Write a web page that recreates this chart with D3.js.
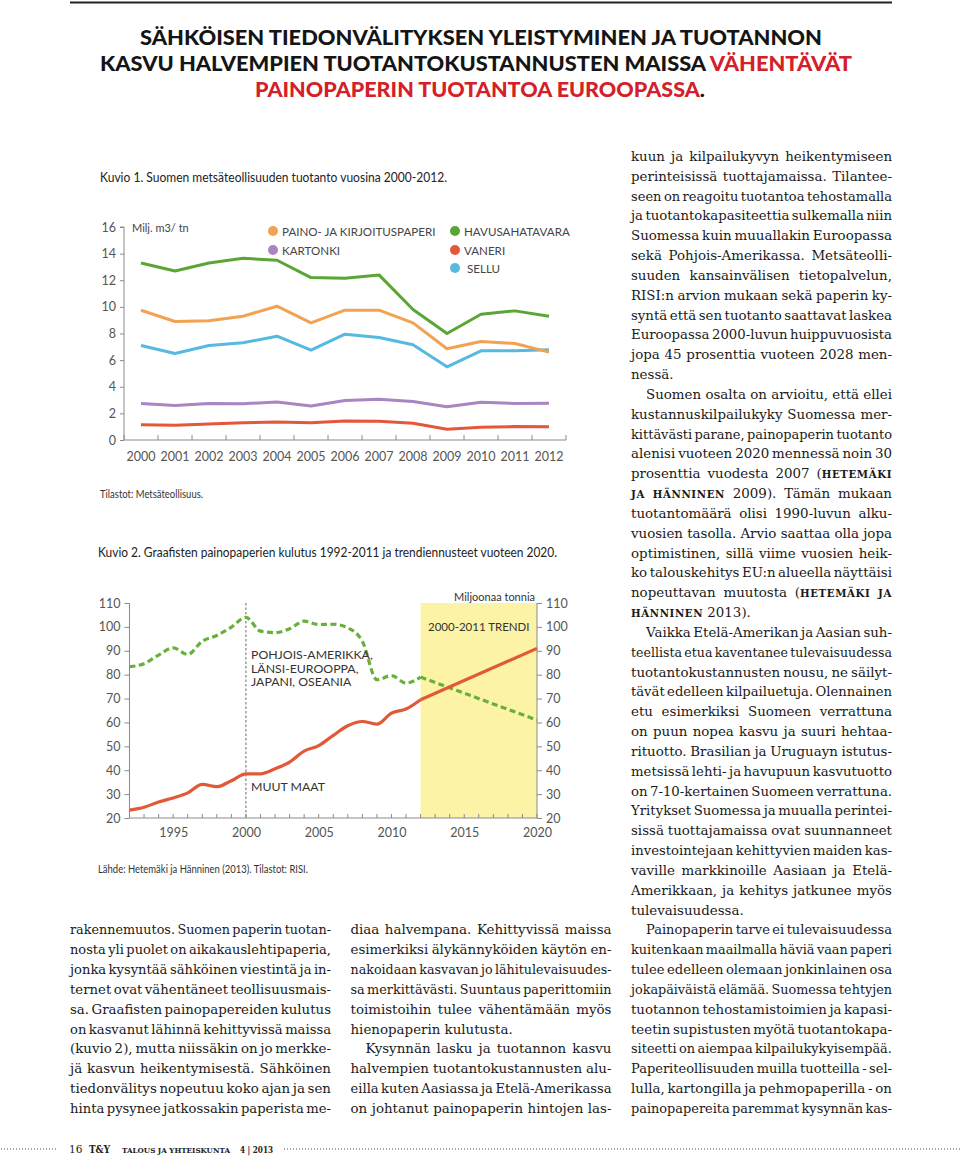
<!DOCTYPE html>
<html><head><meta charset="utf-8">
<script src="https://cdn.jsdelivr.net/npm/d3@7/dist/d3.min.js"></script>
<style>body{margin:0;background:#fff}svg{display:block}</style>
</head><body><div id="c"></div>
<script>
// ---------- DATA: Kuvio 1 ----------
const years1 = [2000,2001,2002,2003,2004,2005,2006,2007,2008,2009,2010,2011,2012];
const paino    = [9.75,8.9,8.95,9.3,10.05,8.8,9.75,9.75,8.8,6.85,7.4,7.25,6.6];
const havu     = [13.3,12.7,13.3,13.65,13.5,12.2,12.15,12.4,9.8,8.0,9.45,9.7,9.3];
const kartonki = [2.74,2.6,2.74,2.72,2.86,2.55,2.96,3.06,2.9,2.5,2.84,2.74,2.76];
const vaneri   = [1.14,1.11,1.2,1.3,1.36,1.3,1.43,1.4,1.26,0.81,0.96,1.01,0.99];
const sellu    = [7.1,6.5,7.1,7.3,7.8,6.75,7.95,7.7,7.15,5.5,6.7,6.7,6.78];
const yTicks1 = [0,2,4,6,8,10,12,14,16];
const legend1 = ["PAINO- JA KIRJOITUSPAPERI","KARTONKI","HAVUSAHATAVARA","VANERI","SELLU"];

// ---------- DATA: Kuvio 2 ----------
const years2  = [1992,1993,1994,1995,1996,1997,1998,1999,2000,2001,2002,2003,2004,2005,2006,2007,2008,2009,2010,2011,2012];
const muutMaat = [23.3,24.5,26.7,28.4,30.5,34.1,33.1,35.6,38.5,38.5,40.6,43.4,48.0,50.3,54.6,58.6,60.4,59.3,63.9,65.6,69.5];
const pohjoinen = [83.3,84.6,88.2,91.2,88.5,94.0,96.4,99.9,104.0,98.2,97.6,99.2,102.4,101.0,101.1,99.6,94.0,77.9,79.6,76.5,79.0];
const trendYears = [2012,2020];
const muutTrend = [69.5,91.0];
const pohjTrend = [79.0,61.0];
const yTicks2 = [20,30,40,50,60,70,80,90,100,110];
const xLabels2 = [1995,2000,2005,2010,2015,2020];
const xMinor2 = [1992,1993,1994,1995,1996,1997,1998,1999,2000,2001,2002,2003,2004,2005,2006,2007,2008,2009,2010,2011,2012,2013,2014,2015,2016,2017,2018,2019,2020];

// ---------- BODY TEXT ----------
const col1 = [
"rakennemuutos. Suomen paperin tuotan-",
"nosta yli puolet on aikakauslehtipaperia,",
"jonka kysyntää sähköinen viestintä ja in-",
"ternet ovat vähentäneet teollisuusmais-",
"sa. Graafisten painopapereiden kulutus",
"on kasvanut lähinnä kehittyvissä maissa",
"(kuvio 2), mutta niissäkin on jo merkke-",
"jä kasvun heikentymisestä. Sähköinen",
"tiedonvälitys nopeutuu koko ajan ja sen",
"hinta pysynee jatkossakin paperista me-"];
const col2 = [
"diaa halvempana. Kehittyvissä maissa",
"esimerkiksi älykännyköiden käytön en-",
"nakoidaan kasvavan jo lähitulevaisuudes-",
"sa merkittävästi. Suuntaus paperittomiin",
"toimistoihin tulee vähentämään myös",
"hienopaperin kulutusta.¶",
">Kysynnän lasku ja tuotannon kasvu",
"halvempien tuotantokustannusten alu-",
"eilla kuten Aasiassa ja Etelä-Amerikassa",
"on johtanut painopaperin hintojen las-"];
const col3 = [
"kuun ja kilpailukyvyn heikentymiseen",
"perinteisissä tuottajamaissa. Tilantee-",
"seen on reagoitu tuotantoa tehostamalla",
"ja tuotantokapasiteettia sulkemalla niin",
"Suomessa kuin muuallakin Euroopassa",
"sekä Pohjois-Amerikassa. Metsäteolli-",
"suuden kansainvälisen tietopalvelun,",
"RISI:n arvion mukaan sekä paperin ky-",
"syntä että sen tuotanto saattavat laskea",
"Euroopassa 2000-luvun huippuvuosista",
"jopa 45 prosenttia vuoteen 2028 men-",
"nessä.¶",
">Suomen osalta on arvioitu, että ellei",
"kustannuskilpailukyky Suomessa mer-",
"kittävästi parane, painopaperin tuotanto",
"alenisi vuoteen 2020 mennessä noin 30",
"prosenttia vuodesta 2007 (|HETEMÄKI|",
"|JA HÄNNINEN| 2009). Tämän mukaan",
"tuotantomäärä olisi 1990-luvun alku-",
"vuosien tasolla. Arvio saattaa olla jopa",
"optimistinen, sillä viime vuosien heik-",
"ko talouskehitys EU:n alueella näyttäisi",
"nopeuttavan muutosta (|HETEMÄKI JA|",
"|HÄNNINEN| 2013).¶",
">Vaikka Etelä-Amerikan ja Aasian suh-",
"teellista etua kaventanee tulevaisuudessa",
"tuotantokustannusten nousu, ne säilyt-",
"tävät edelleen kilpailuetuja. Olennainen",
"etu esimerkiksi Suomeen verrattuna",
"on puun nopea kasvu ja suuri hehtaa-",
"rituotto. Brasilian ja Uruguayn istutus-",
"metsissä lehti- ja havupuun kasvutuotto",
"on 7-10-kertainen Suomeen verrattuna.",
"Yritykset Suomessa ja muualla perintei-",
"sissä tuottajamaissa ovat suunnanneet",
"investointejaan kehittyvien maiden kas-",
"vaville markkinoille Aasiaan ja Etelä-",
"Amerikkaan, ja kehitys jatkunee myös",
"tulevaisuudessa.¶",
">Painopaperin tarve ei tulevaisuudessa",
"kuitenkaan maailmalla häviä vaan paperi",
"tulee edelleen olemaan jonkinlainen osa",
"jokapäiväistä elämää. Suomessa tehtyjen",
"tuotannon tehostamistoimien ja kapasi-",
"teetin supistusten myötä tuotantokapa-",
"siteetti on aiempaa kilpailukykyisempää.",
"Paperiteollisuuden muilla tuotteilla - sel-",
"lulla, kartongilla ja pehmopaperilla - on",
"painopapereita paremmat kysynnän kas-"];

// ---------- DRAW ----------
const W = 960, H = 1157;
const svg = d3.select('#c').append('svg').attr('width', W).attr('height', H);
svg.append('rect').attr('width', W).attr('height', H).attr('fill', '#fff');

const SANS = "Lato, 'Open Sans', sans-serif";
const SERIF = "'DejaVu Serif', 'Liberation Serif', serif";
const BLACK = '#151515', RED = '#d42029';

// top rule
svg.append('line').attr('x1', 70).attr('x2', 892).attr('y1', 2.5).attr('y2', 2.5)
  .attr('stroke', '#222').attr('stroke-width', 2);

// title
const title = svg.append('g').attr('font-family', SANS).attr('font-weight', 900).attr('font-size', 21.5);
title.append('text').attr('x', 140).attr('y', 45).attr('textLength', 682).attr('lengthAdjust', 'spacingAndGlyphs')
  .attr('fill', BLACK).text('SÄHKÖISEN TIEDONVÄLITYKSEN YLEISTYMINEN JA TUOTANNON');
const t2 = title.append('text').attr('x', 100).attr('y', 71).attr('textLength', 752).attr('lengthAdjust', 'spacingAndGlyphs');
t2.append('tspan').attr('fill', BLACK).text('KASVU HALVEMPIEN TUOTANTOKUSTANNUSTEN MAISSA ');
t2.append('tspan').attr('fill', RED).text('VÄHENTÄVÄT');
const t3 = title.append('text').attr('x', 255).attr('y', 97).attr('textLength', 450).attr('lengthAdjust', 'spacingAndGlyphs');
t3.append('tspan').attr('fill', RED).text('PAINOPAPERIN TUOTANTOA EUROOPASSA');
t3.append('tspan').attr('fill', BLACK).text('.');

// ======== Kuvio 1 ========
const c1 = svg.append('g').attr('font-family', SANS);
c1.append('text').attr('x', 100).attr('y', 182).attr('font-size', 13.5).attr('font-weight', 400)
  .attr('fill', '#222').attr('textLength', 347).attr('lengthAdjust', 'spacingAndGlyphs')
  .text('Kuvio 1. Suomen metsäteollisuuden tuotanto vuosina 2000-2012.');

const x1 = d3.scaleBand().domain(years1).range([124, 566]);
const y1 = d3.scaleLinear().domain([0, 16]).range([440, 227]);
const axisCol = '#8a8a8a', labCol = '#555';

// left axis
const ax1 = c1.append('g').attr('transform', 'translate(124,0)')
  .call(d3.axisLeft(y1).tickValues(yTicks1).tickSize(4).tickPadding(4));
ax1.select('.domain').attr('stroke', axisCol).attr('d', `M-4,${y1(16)}H0V${y1(0)}`);
ax1.selectAll('.tick line').attr('stroke', axisCol);
ax1.selectAll('.tick text').attr('font-size', 12.5).attr('fill', labCol).attr('font-family', SANS);

// bottom axis
const bx1 = c1.append('g').attr('transform', 'translate(0,440)')
  .call(d3.axisBottom(x1).tickSize(0).tickPadding(12));
bx1.select('.domain').attr('stroke', axisCol).attr('d', `M${x1.range()[0]},0H${x1.range()[1]}`);
bx1.selectAll('.tick text').attr('font-size', 12.5).attr('fill', labCol).attr('font-family', SANS);
c1.append('g').selectAll('line').data(years1.concat(['end'])).join('line')
  .attr('x1', d => d === 'end' ? x1.range()[1] : x1(d)).attr('x2', d => d === 'end' ? x1.range()[1] : x1(d))
  .attr('y1', 440).attr('y2', 435).attr('stroke', axisCol);

c1.append('text').attr('x', 132).attr('y', 232).attr('font-size', 11).attr('fill', '#444').text('Milj. m3/ tn');

const s1 = [
  {name: legend1[0], vals: paino, col: '#f3a252'},
  {name: legend1[1], vals: kartonki, col: '#a985c2'},
  {name: legend1[2], vals: havu, col: '#5aa635'},
  {name: legend1[3], vals: vaneri, col: '#e4573a'},
  {name: legend1[4], vals: sellu, col: '#56b9e0'}
];
const line1 = d3.line().x((d, i) => x1(years1[i]) + x1.bandwidth() / 2).y(d => y1(d));
c1.append('g').selectAll('path').data([s1[3], s1[1], s1[4], s1[0], s1[2]]).join('path')
  .attr('d', d => line1(d.vals)).attr('fill', 'none').attr('stroke', d => d.col)
  .attr('stroke-width', 3).attr('stroke-linejoin', 'round');

// legend
const legPos = [[273, 231], [273, 250], [455, 231], [455, 250], [455, 268]];
const lg = c1.append('g').selectAll('g').data(s1).join('g')
  .attr('transform', (d, i) => `translate(${legPos[i][0]},${legPos[i][1]})`);
lg.append('circle').attr('r', 5).attr('fill', d => d.col);
lg.append('text').attr('x', d => d.name === 'SELLU' ? 12 : 9).attr('y', 4.5).attr('font-size', 11.6)
  .attr('fill', '#444').text(d => d.name);

c1.append('text').attr('x', 100).attr('y', 498).attr('font-size', 11).attr('fill', '#333')
  .attr('textLength', 103).attr('lengthAdjust', 'spacingAndGlyphs').text('Tilastot: Metsäteollisuus.');

// ======== Kuvio 2 ========
const c2 = svg.append('g').attr('font-family', SANS);
c2.append('text').attr('x', 98).attr('y', 557).attr('font-size', 13.5).attr('font-weight', 400)
  .attr('fill', '#222').attr('textLength', 459).attr('lengthAdjust', 'spacingAndGlyphs')
  .text('Kuvio 2. Graafisten painopaperien kulutus 1992-2011 ja trendiennusteet vuoteen 2020.');

const x2 = d3.scaleLinear().domain([1992, 2020]).range([129.5, 537]);
const y2 = d3.scaleLinear().domain([20, 110]).range([818, 603]);

// trend band
c2.append('rect').attr('x', x2(trendYears[0])).attr('width', x2(trendYears[1]) - x2(trendYears[0]))
  .attr('y', y2(110)).attr('height', y2(20) - y2(110)).attr('fill', '#fcf3a6');

// divider at 2000
c2.append('line').attr('x1', x2(2000)).attr('x2', x2(2000)).attr('y1', y2(110)).attr('y2', y2(20))
  .attr('stroke', '#444').attr('stroke-width', 0.8).attr('stroke-dasharray', '2.5,2');

const al = c2.append('g').attr('transform', `translate(${x2(1992)},0)`)
  .call(d3.axisLeft(y2).tickValues(yTicks2).tickSize(5).tickPadding(4));
const ar = c2.append('g').attr('transform', `translate(${x2(2020)},0)`)
  .call(d3.axisRight(y2).tickValues(yTicks2).tickSize(5).tickPadding(4));
[al, ar].forEach(a => {
  a.select('.domain').attr('stroke', axisCol).attr('d', `M0,${y2(110)}V${y2(20)}`);
  a.selectAll('.tick line').attr('stroke', axisCol);
  a.selectAll('.tick text').attr('font-size', 12.5).attr('fill', labCol).attr('font-family', SANS);
});
const ab = c2.append('g').attr('transform', `translate(0,${y2(20)})`)
  .call(d3.axisBottom(x2).tickValues(xLabels2).tickFormat(d3.format('d')).tickSize(0).tickPadding(10));
ab.select('.domain').attr('stroke', axisCol).attr('d', `M${x2(1992)},0H${x2(2020)}`);
ab.selectAll('.tick text').attr('font-size', 12.5).attr('fill', labCol).attr('font-family', SANS);
c2.append('g').selectAll('line').data(xMinor2).join('line')
  .attr('x1', d => x2(d)).attr('x2', d => x2(d)).attr('y1', y2(20)).attr('y2', y2(20) - 4)
  .attr('stroke', axisCol);

const line2 = d3.line().curve(d3.curveMonotoneX);
c2.append('path').attr('d', line2(years2.map((yr, i) => [x2(yr), y2(pohjoinen[i])])))
  .attr('fill', 'none').attr('stroke', '#68b03c').attr('stroke-width', 3.2).attr('stroke-dasharray', '6,3.5');
c2.append('path').attr('d', d3.line()(trendYears.map((yr, i) => [x2(yr), y2(pohjTrend[i])])))
  .attr('fill', 'none').attr('stroke', '#68b03c').attr('stroke-width', 3.2).attr('stroke-dasharray', '6,3.5');
c2.append('path').attr('d', line2(years2.map((yr, i) => [x2(yr), y2(muutMaat[i])])))
  .attr('fill', 'none').attr('stroke', '#e05a38').attr('stroke-width', 3.2).attr('stroke-linejoin', 'round');
c2.append('path').attr('d', d3.line()(trendYears.map((yr, i) => [x2(yr), y2(muutTrend[i])])))
  .attr('fill', 'none').attr('stroke', '#e05a38').attr('stroke-width', 3.2);

const lab2 = c2.append('g').attr('font-size', 12.3).attr('fill', '#333');
['POHJOIS-AMERIKKA,', 'LÄNSI-EUROOPPA,', 'JAPANI, OSEANIA'].forEach((t, i) =>
  lab2.append('text').attr('x', 251).attr('y', 659 + i * 13.5).text(t));
lab2.append('text').attr('x', 251).attr('y', 791).text('MUUT MAAT');
c2.append('text').attr('x', 535).attr('y', 601).attr('text-anchor', 'end').attr('font-size', 11)
  .attr('fill', '#333').text('Miljoonaa tonnia');
c2.append('text').attr('x', (x2(2012) + x2(2020)) / 2).attr('y', 631).attr('text-anchor', 'middle')
  .attr('font-size', 11.5).attr('fill', '#333').text('2000-2011 TRENDI');

c2.append('text').attr('x', 98).attr('y', 873).attr('font-size', 11).attr('fill', '#333')
  .attr('textLength', 210).attr('lengthAdjust', 'spacingAndGlyphs')
  .text('Lähde: Hetemäki ja Hänninen (2013). Tilastot: RISI.');

// ======== Body text ========
const body = svg.append('g').attr('font-family', SERIF).attr('font-size', 13.4).attr('fill', '#1a1a1a');
const COLW = 261, LH = 19.83, BASE0 = 161;
function drawLine(str, x, y) {
  let indent = 0, justify = true;
  if (str.startsWith('>')) { indent = 15; str = str.slice(1); }
  if (str.endsWith('¶')) { justify = false; str = str.slice(0, -1); }
  let sc = false; const words = []; let cur = [];
  let seg = '';
  const flushSeg = () => { if (seg) { cur.push({t: seg, sc}); seg = ''; } };
  for (const ch of str) {
    if (ch === '|') { flushSeg(); sc = !sc; }
    else if (ch === ' ') { flushSeg(); if (cur.length) words.push(cur); cur = []; }
    else seg += ch;
  }
  flushSeg(); if (cur.length) words.push(cur);
  const g = body.append('g');
  const els = words.map(w => {
    const t = g.append('text').attr('y', y);
    w.forEach(s => {
      const ts = t.append('tspan').text(s.t);
      if (s.sc) ts.attr('font-size', 10.2).attr('font-weight', 'bold').attr('letter-spacing', 0.6);
    });
    return t;
  });
  const widths = els.map(e => e.node().getComputedTextLength());
  const total = d3.sum(widths);
  const avail = COLW - indent;
  let gap = justify && els.length > 1 ? (avail - total) / (els.length - 1) : 4.2;
  let scale = 1;
  if (gap < 2.5) { gap = 2.5; scale = avail / (total + gap * (els.length - 1)); }
  let cx = 0;
  els.forEach((e, i) => { e.attr('x', cx); cx += widths[i] + gap; });
  g.attr('transform', `translate(${x + indent},0) scale(${scale},1)`);
}
col3.forEach((s, i) => drawLine(s, 631, BASE0 + i * LH));
col1.forEach((s, i) => drawLine(s, 70, BASE0 + (39 + i) * LH));
col2.forEach((s, i) => drawLine(s, 350.5, BASE0 + (39 + i) * LH));

// ======== Footer ========
const ft = svg.append('g').attr('font-family', SERIF).attr('fill', '#222');
ft.append('line').attr('x1', 1).attr('x2', 58).attr('y1', 1149).attr('y2', 1149)
  .attr('stroke', '#555').attr('stroke-width', 1).attr('stroke-dasharray', '1,2');
ft.append('line').attr('x1', 284).attr('x2', 960).attr('y1', 1149).attr('y2', 1149)
  .attr('stroke', '#555').attr('stroke-width', 1).attr('stroke-dasharray', '1,2');
ft.append('text').attr('x', 69).attr('y', 1153).attr('font-size', 10.5).text('16');
ft.append('text').attr('x', 89).attr('y', 1153).attr('font-size', 10.5).attr('font-weight', 'bold')
  .attr('textLength', 21).attr('lengthAdjust', 'spacingAndGlyphs').text('T&Y');
ft.append('text').attr('x', 122).attr('y', 1153).attr('font-size', 8).attr('font-weight', 'bold')
  .attr('textLength', 108).attr('lengthAdjust', 'spacingAndGlyphs').text('TALOUS JA YHTEISKUNTA');
ft.append('text').attr('x', 240).attr('y', 1153).attr('font-size', 10).attr('font-weight', 'bold')
  .attr('textLength', 33).attr('lengthAdjust', 'spacingAndGlyphs').text('4 | 2013');
</script></body></html>
